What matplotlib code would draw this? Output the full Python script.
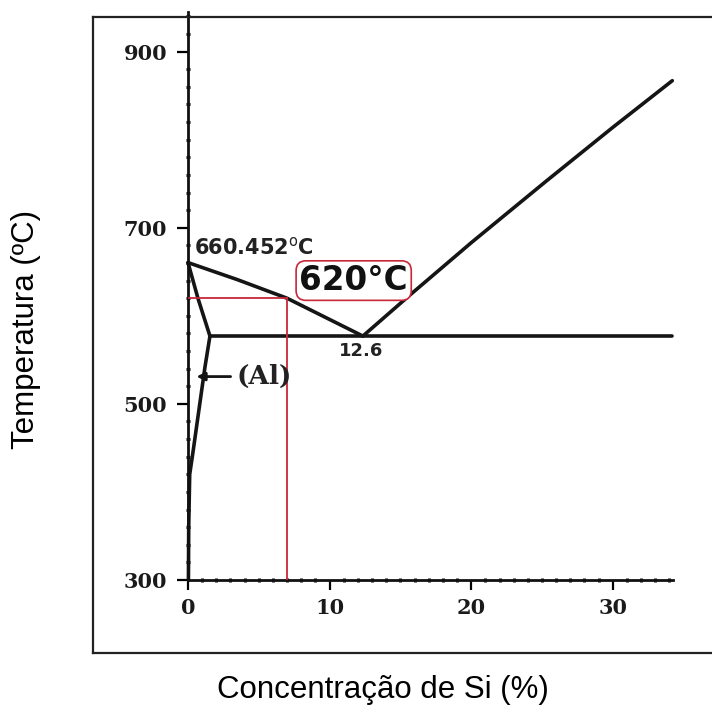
import matplotlib
matplotlib.use("Agg")
import matplotlib.pyplot as plt
from matplotlib.lines import Line2D
from matplotlib.ticker import MultipleLocator

# ---- data ----
liq_al_x = [0.0, 3.5, 6.99, 12.35]
liq_al_t = [660.452, 641.0, 620.0, 577.0]
liq_si_x = [12.35, 15.7, 20.0, 25.3, 30.0, 34.2]
liq_si_t = [577.0, 624.0, 683.0, 753.0, 814.0, 867.0]
eut_x = [1.55, 34.2]
eut_t = [577.0, 577.0]
solidus_x = [0.0, 0.7, 1.55]
solidus_t = [660.452, 620.0, 577.0]
solvus_x = [1.55, 1.2, 0.7, 0.35, 0.12, 0.05, 0.03]
solvus_t = [577.0, 542.0, 485.0, 445.0, 420.0, 360.0, 300.0]
ref_x = 6.99
ref_t = 620.0
eut_label = "12.6"
melt_label = "660.452"
xticks = [0, 10, 20, 30]
yticks = [300, 500, 700, 900]

W, H = 712, 709
fig = plt.figure(figsize=(W / 100, H / 100), dpi=100)

# outer frame (pixels -> figure fraction)
def px(x, y):
    return x / W, 1 - y / H

for (x0, y0), (x1, y1) in [((93, 17), (713, 17)), ((93, 17), (93, 653)), ((93, 653), (713, 653))]:
    a, b = px(x0, y0)
    c, d = px(x1, y1)
    fig.add_artist(Line2D([a, c], [b, d], color="#222222", lw=1.6, transform=fig.transFigure))

ax = fig.add_axes([188 / W, (H - 580) / H, 485 / W, 568 / H])
ax.set_xlim(0, 34.25)
ax.set_ylim(300, 945)
for s in ["top", "right"]:
    ax.spines[s].set_visible(False)
for s in ["left", "bottom"]:
    ax.spines[s].set_linewidth(2.0)
    ax.spines[s].set_color("#111111")

ax.set_xticks(xticks)
ax.set_yticks(yticks)
ax.xaxis.set_minor_locator(MultipleLocator(1))
ax.yaxis.set_minor_locator(MultipleLocator(20))
ax.tick_params(axis="y", which="major", direction="out", length=8, width=1.6, pad=7)
ax.tick_params(axis="x", which="major", direction="out", length=7, width=1.6, pad=6)
ax.tick_params(which="minor", direction="inout", length=3.5, width=2.2, color="#111111")
for lab in ax.get_xticklabels() + ax.get_yticklabels():
    lab.set_family("DejaVu Serif")
    lab.set_fontweight("bold")
    lab.set_fontsize(15)
    lab.set_color("#1a1a1a")

lk = dict(color="#151515", lw=2.6, solid_capstyle="round", solid_joinstyle="round", clip_on=False)
ax.plot(liq_al_x, liq_al_t, **lk)
ax.plot(liq_si_x, liq_si_t, **lk)
ax.plot(eut_x, eut_t, **lk)
ax.plot(solidus_x, solidus_t, **lk)
ax.plot(solvus_x, solvus_t, **lk)

red = "#c8283a"
ax.plot([0, ref_x], [ref_t, ref_t], color=red, lw=1.3, zorder=3)
ax.plot([ref_x, ref_x], [300, ref_t], color=red, lw=1.3, zorder=3)

ax.text(0.45, 665, melt_label + r"$^{\mathrm{o}}$C", fontsize=15, family="DejaVu Sans",
        fontweight="bold", color="#222222", ha="left", va="bottom")
ax.text(12.2, 570, eut_label, fontsize=13, family="DejaVu Sans", fontweight="bold",
        color="#222222", ha="center", va="top")
ax.text(11.7, 640, "620°C", fontsize=23.5, fontweight="bold", family="DejaVu Sans",
        ha="center", va="center", color="#111111",
        bbox=dict(boxstyle="round,pad=0.1,rounding_size=0.3", fc="white", ec=red, lw=1.2))
ax.annotate("(Al)", xy=(0.6, 531), xytext=(3.4, 531), fontsize=19, family="DejaVu Serif",
            fontweight="bold", color="#222222", va="center", ha="left",
            arrowprops=dict(arrowstyle="-|>", color="#151515", lw=2.0, mutation_scale=12,
                            shrinkA=2, shrinkB=0))

fig.text(26 / W, 1 - 329 / H, "Temperatura (ºC)", rotation=90, ha="center", va="center",
         fontsize=22.5, family="Liberation Sans")
fig.text(383 / W, 1 - 690 / H, "Concentração de Si (%)", ha="center", va="center",
         fontsize=22.5, family="Liberation Sans")

fig.savefig("out.png", dpi=100, facecolor="white")
